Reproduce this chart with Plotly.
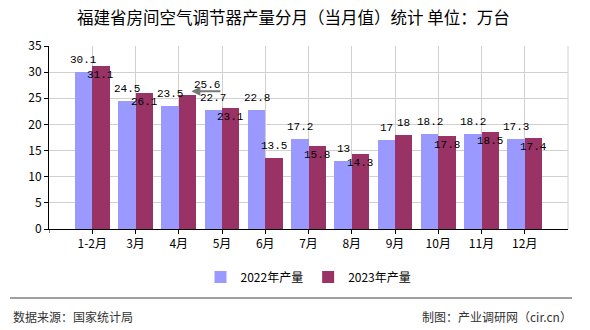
import plotly.graph_objects as go

categories = ["1-2月", "3月", "4月", "5月", "6月", "7月", "8月", "9月", "10月", "11月", "12月"]
series_2022 = [30.1, 24.5, 23.5, 22.7, 22.8, 17.2, 13, 17, 18.2, 18.2, 17.3]
series_2023 = [31.1, 26.1, 25.6, 23.1, 13.5, 15.8, 14.3, 18, 17.8, 18.5, 17.4]
y_ticks = [0, 5, 10, 15, 20, 25, 30, 35]

name_2022 = "2022年产量"
name_2023 = "2023年产量"
title_text = "福建省房间空气调节器产量分月（当月值）统计 单位：万台"
source_text = "数据来源：国家统计局"
credit_text = "制图：产业调研网（cir.cn）"

# label placement style for 2023 series (above bar or just inside top)
place_2023 = ["in", "in", "out", "in", "out", "in", "in", "out", "in", "in", "in"]

C22 = "#9999FF"
C23 = "#993366"
CJK = "Noto Sans CJK SC"
MONO = "Liberation Mono"

idx = list(range(len(categories)))

# plot area in pixels
L, R, T, B = 49, 22, 46, 101
PW, PH = 590 - L - R, 330 - T - B


def px_x(px):
    return (px - L) / PW


def px_y(py):
    return (330 - B - py) / PH


fig = go.Figure()
fig.add_trace(go.Bar(x=[i - 0.2 for i in idx], y=series_2022, width=0.4, name=name_2022,
                     marker=dict(color=C22, line=dict(width=0)), hoverinfo="skip"))
fig.add_trace(go.Bar(x=[i + 0.2 for i in idx], y=series_2023, width=0.4, name=name_2023,
                     marker=dict(color=C23, line=dict(width=0)), hoverinfo="skip"))

annotations = []
for i, v in zip(idx, series_2022):
    annotations.append(dict(x=i - 0.2, y=v, xref="x", yref="y", text=f"{v:g}", showarrow=False,
                            yshift=12, yanchor="middle", font=dict(family=MONO, size=11, color="#000")))
for i, v, p in zip(idx, series_2023, place_2023):
    if i == 2:
        annotations.append(dict(x=i + 0.2, y=v, xref="x", yref="y", text=f"{v:g}", showarrow=False,
                                yshift=10, xshift=20, yanchor="middle",
                                font=dict(family=MONO, size=11, color="#000")))
        annotations.append(dict(x=i + 0.2, y=v, xref="x", yref="y", text=" ", showarrow=True,
                                xshift=4, yshift=4, ax=32, ay=0, arrowhead=2, arrowsize=0.9,
                                arrowwidth=2, arrowcolor="#777"))
        continue
    annotations.append(dict(x=i + 0.2, y=v, xref="x", yref="y", text=f"{v:g}", showarrow=False,
                            yshift=(12 if p == "out" else -9), yanchor="middle",
                            font=dict(family=MONO, size=11, color="#000")))

# title and footer
annotations.append(dict(x=px_x(293.5), y=px_y(17), xref="paper", yref="paper", text=title_text,
                        showarrow=False, xanchor="center", yanchor="middle",
                        font=dict(family=CJK, size=16.5, color="#000")))
annotations.append(dict(x=px_x(11), y=px_y(316), xref="paper", yref="paper", text=source_text,
                        showarrow=False, xanchor="left", yanchor="middle",
                        font=dict(family=CJK, size=12, color="#333")))
annotations.append(dict(x=px_x(574), y=px_y(316), xref="paper", yref="paper", text=credit_text,
                        showarrow=False, xanchor="right", yanchor="middle",
                        font=dict(family=CJK, size=12, color="#333")))

shapes = [
    dict(type="line", xref="paper", yref="paper", x0=px_x(10), x1=px_x(572), y0=px_y(298), y1=px_y(298),
         line=dict(color="#808080", width=1.5)),
    dict(type="line", xref="paper", yref="paper", x0=1, x1=1, y0=0, y1=1,
         line=dict(color="#d0d0d0", width=1)),
    dict(type="line", xref="x", yref="paper", x0=-1, x1=-1, y0=0, y1=-4 / PH,
         line=dict(color="#000", width=1)),
]

fig.update_layout(
    width=590, height=330,
    margin=dict(l=L, r=R, t=T, b=B),
    paper_bgcolor="white", plot_bgcolor="white",
    barmode="overlay", bargap=0,
    showlegend=True,
    legend=dict(orientation="h", x=0.5, xanchor="center", y=px_y(277), yanchor="middle",
                font=dict(family=CJK, size=12, color="#000"), itemwidth=30,
                traceorder="normal", bgcolor="rgba(0,0,0,0)"),
    annotations=annotations,
    shapes=shapes,
    xaxis=dict(range=[-1, len(categories)], tickmode="array", tickvals=idx, ticktext=categories,
               showgrid=True, gridcolor="#d0d0d0", gridwidth=1,
               showline=True, linecolor="#000", linewidth=1,
               ticks="outside", ticklen=4, tickcolor="#000",
               tickfont=dict(family=CJK, size=12, color="#000"), zeroline=False, fixedrange=True),
    yaxis=dict(range=[0, 35], tickmode="array", tickvals=y_ticks,
               showgrid=True, gridcolor="#d0d0d0", gridwidth=1,
               showline=True, linecolor="#000", linewidth=1,
               ticks="outside", ticklen=4, tickcolor="#000",
               tickfont=dict(family=CJK, size=12, color="#000"), zeroline=False, fixedrange=True),
)

fig.write_html("out.html")
